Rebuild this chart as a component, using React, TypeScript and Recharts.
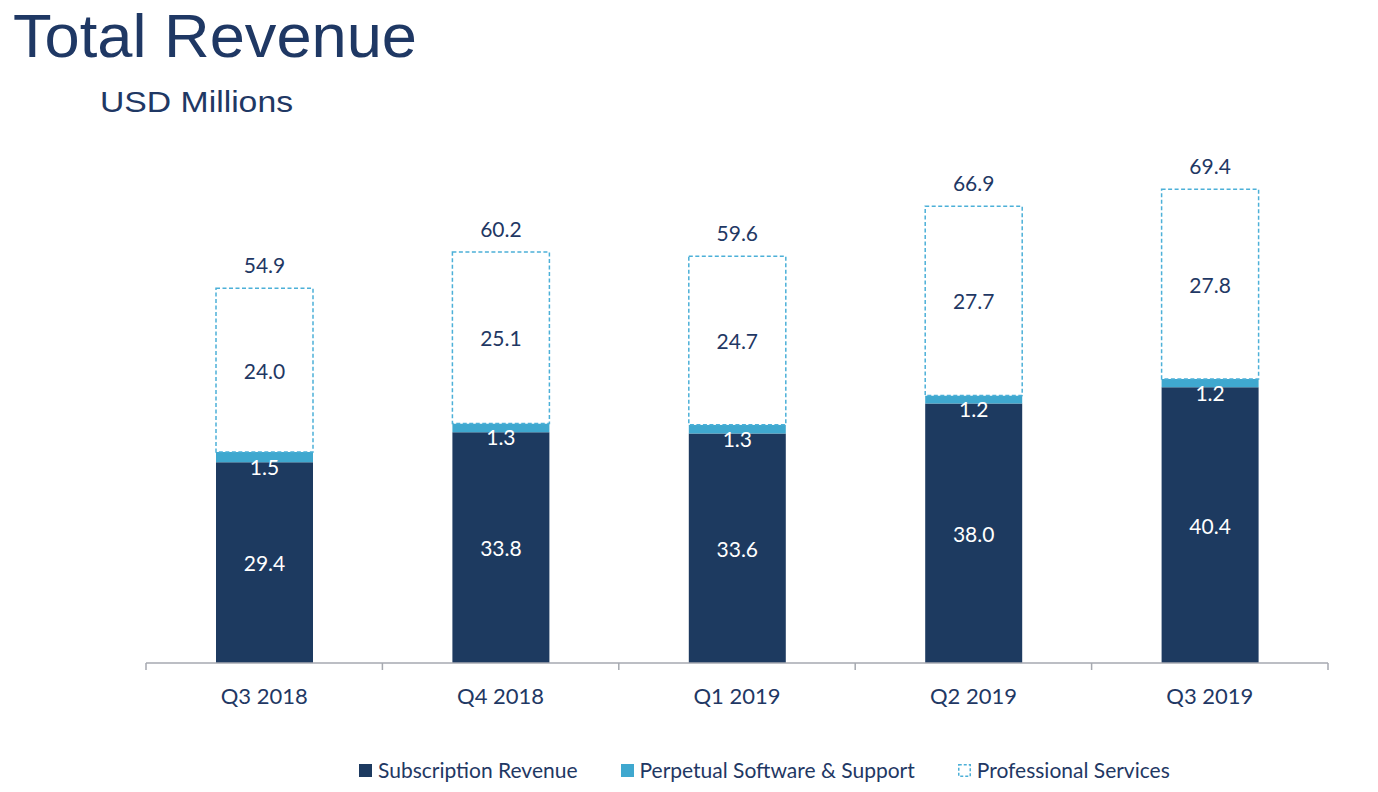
import React from "react";
import { BarChart, Bar, XAxis, YAxis, LabelList, Legend } from "recharts";

const quarters = ["Q3 2018", "Q4 2018", "Q1 2019", "Q2 2019", "Q3 2019"];
const subscription = [29.4, 33.8, 33.6, 38.0, 40.4];
const perpetual = [1.5, 1.3, 1.3, 1.2, 1.2];
const professional = [24.0, 25.1, 24.7, 27.7, 27.8];
const totals = [54.9, 60.2, 59.6, 66.9, 69.4];

const data = quarters.map((q, i) => ({
  quarter: q,
  subscription: subscription[i],
  perpetual: perpetual[i],
  professional: professional[i],
  total: totals[i],
}));

const NAVY = "#1d3a60";
const LIGHT = "#3fa8cf";
const DASH = "#4cb0d8";
const TEXT = "#1f3864";
const AXIS = "#a6a9b0";
const FONT = "Lato, 'Open Sans', sans-serif";

const fmt = (v: any) => Number(v).toFixed(1);

const makeInside = (color: string, dy = 0) => (props: any) => {
  const { x, y, width, height, value } = props;
  return (
    <text
      x={Number(x) + Number(width) / 2}
      y={Number(y) + Number(height) / 2 + dy}
      textAnchor="middle"
      dominantBaseline="central"
      fill={color}
      fontFamily={FONT}
      fontSize={21}
    >
      {fmt(value)}
    </text>
  );
};

const TopLabel = (props: any) => {
  const { x, y, width, value } = props;
  return (
    <text
      x={Number(x) + Number(width) / 2}
      y={Number(y) - 15}
      textAnchor="middle"
      fill={TEXT}
      fontFamily={FONT}
      fontSize={21}
    >
      {fmt(value)}
    </text>
  );
};

const Tick = (props: any) => {
  const { x, y, payload, index, visibleTicksCount } = props;
  const half = payload && payload.offset ? payload.offset : 118.2;
  const last = index === (visibleTicksCount ?? quarters.length) - 1;
  return (
    <g>
      <line x1={x - half} x2={x - half} y1={y} y2={y + 7} stroke={AXIS} strokeWidth={1.5} />
      {last && <line x1={x + half} x2={x + half} y1={y} y2={y + 7} stroke={AXIS} strokeWidth={1.5} />}
      <text x={x} y={y + 41} textAnchor="middle" fill={TEXT} fontFamily={FONT} fontSize={22}>
        {payload.value}
      </text>
    </g>
  );
};

const legendItems = [
  { label: "Subscription Revenue", fill: NAVY, dashed: false },
  { label: "Perpetual Software & Support", fill: LIGHT, dashed: false },
  { label: "Professional Services", fill: "#ffffff", dashed: true },
];

const LegendContent = () => (
  <div
    style={{
      display: "flex",
      alignItems: "center",
      paddingLeft: 359,
      fontFamily: FONT,
      fontSize: 21,
      lineHeight: "26px",
      color: TEXT,
    }}
  >
    {legendItems.map((it, i) => (
      <div key={i} style={{ display: "flex", alignItems: "center", marginRight: 43 }}>
        <svg width={13} height={13} style={{ marginRight: 6 }}>
          {it.dashed ? (
            <rect x={0.75} y={0.75} width={11.5} height={11.5} fill="#fff" stroke={DASH} strokeWidth={1.5} strokeDasharray="3 2" />
          ) : (
            <rect x={0} y={0} width={13} height={13} fill={it.fill} />
          )}
        </svg>
        <span>{it.label}</span>
      </div>
    ))}
  </div>
);

export default function App() {
  return (
    <div style={{ position: "absolute", left: 0, top: 0, width: 1378, height: 792, background: "#fff" }}>
      <svg width={1378} height={130} style={{ position: "absolute", left: 0, top: 0 }}>
        <text
          x={13}
          y={57}
          fill={TEXT}
          fontFamily="'Liberation Sans', Arial, sans-serif"
          fontSize={62}
          textLength={404}
          lengthAdjust="spacingAndGlyphs"
        >
          Total Revenue
        </text>
        <text
          x={100}
          y={112}
          fill={TEXT}
          fontFamily="'Liberation Sans', Arial, sans-serif"
          fontSize={30}
          textLength={193}
          lengthAdjust="spacingAndGlyphs"
        >
          USD Millions
        </text>
      </svg>
      <div style={{ position: "absolute", left: 0, top: 0 }}>
        <BarChart
          width={1378}
          height={792}
          data={data}
          margin={{ top: 151, right: 50, bottom: 99, left: 146 }}
        >
          <XAxis
            dataKey="quarter"
            height={30}
            axisLine={{ stroke: AXIS, strokeWidth: 1.5 }}
            tickLine={false}
            tickSize={0}
            tickMargin={0}
            tick={<Tick />}
            interval={0}
          />
          <YAxis hide domain={[0, 75]} />
          <Legend
            layout="horizontal"
            verticalAlign="middle"
            align="center"
            wrapperStyle={{ top: 757, left: 0, width: 1378, height: 26 }}
            content={<LegendContent />}
          />
          <Bar dataKey="subscription" stackId="a" fill={NAVY} barSize={97} isAnimationActive={false}>
            <LabelList dataKey="subscription" content={makeInside("#ffffff")} />
          </Bar>
          <Bar dataKey="perpetual" stackId="a" fill={LIGHT} barSize={97} isAnimationActive={false}>
            <LabelList dataKey="perpetual" content={makeInside("#ffffff", 9)} />
          </Bar>
          <Bar
            dataKey="professional"
            stackId="a"
            fill="#ffffff"
            stroke={DASH}
            strokeWidth={1.5}
            strokeDasharray="4 2.5"
            barSize={97}
            isAnimationActive={false}
          >
            <LabelList dataKey="professional" content={makeInside(TEXT)} />
            <LabelList dataKey="total" content={<TopLabel />} />
          </Bar>
        </BarChart>
      </div>
    </div>
  );
}
